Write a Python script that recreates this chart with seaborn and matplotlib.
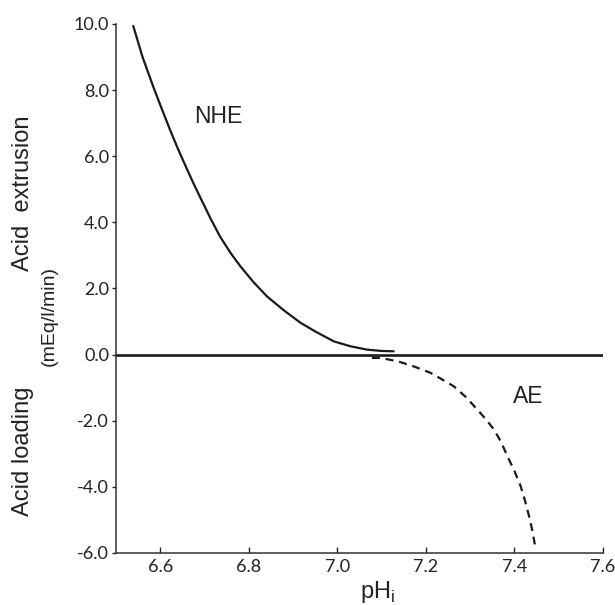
import numpy as np
import pandas as pd
import matplotlib
matplotlib.use("Agg")
import matplotlib.pyplot as plt
import seaborn as sns

# values (pH_i vs flux in mEq/l/min)
nhe_ph = [6.539, 6.560, 6.584, 6.600, 6.622, 6.640, 6.660, 6.675, 6.690,
          6.700, 6.713, 6.735, 6.760, 6.781, 6.810, 6.841, 6.880, 6.917,
          6.950, 6.992, 7.030, 7.067, 7.100, 7.127]
nhe_flux = [9.94, 9.00, 8.11, 7.55, 6.80, 6.22, 5.62, 5.18, 4.76,
            4.49, 4.13, 3.57, 3.05, 2.67, 2.20, 1.76, 1.33, 0.96,
            0.70, 0.40, 0.25, 0.15, 0.11, 0.10]

ae_ph = [7.078, 7.097, 7.120, 7.143, 7.175, 7.210, 7.235, 7.263, 7.290,
         7.316, 7.335, 7.354, 7.370, 7.384, 7.400, 7.414, 7.424, 7.433,
         7.440, 7.446]
ae_flux = [-0.10, -0.10, -0.16, -0.23, -0.37, -0.55, -0.74, -0.96, -1.28,
           -1.66, -1.95, -2.27, -2.65, -3.07, -3.52, -3.98, -4.43, -4.89,
           -5.30, -5.74]

x_ticks = [6.6, 6.8, 7.0, 7.2, 7.4, 7.6]
y_ticks = [-6.0, -4.0, -2.0, 0.0, 2.0, 4.0, 6.0, 8.0, 10.0]

sns.set_style("ticks")
plt.rcParams["font.family"] = ["Liberation Sans", "DejaVu Sans"]
plt.rcParams["axes.unicode_minus"] = False

fig = plt.figure(figsize=(6.15, 6.05), dpi=100)
ax = fig.add_axes([0.1886, 0.0860, 0.7919, 0.8744])

nhe = pd.DataFrame({"ph": nhe_ph, "flux": nhe_flux})
ae = pd.DataFrame({"ph": ae_ph, "flux": ae_flux})

ax.axhline(0, color="#1a1a1a", lw=1.9, zorder=1)
sns.lineplot(data=nhe, x="ph", y="flux", ax=ax, color="#1a1a1a", lw=1.6,
             sort=False, zorder=2)
sns.lineplot(data=ae, x="ph", y="flux", ax=ax, color="#1a1a1a", lw=1.6,
             sort=False, linestyle=(0, (3.6, 2.6)), zorder=2)

ax.set_xlim(6.5, 7.6)
ax.set_ylim(-6, 10)
ax.set_xticks(x_ticks)
ax.set_yticks(y_ticks)
ax.set_xticklabels([f"{v:.1f}" for v in x_ticks], fontfamily="Lato", fontsize=13)
ax.set_yticklabels([f"{v:.1f}" for v in y_ticks], fontfamily="Lato", fontsize=13)
ax.tick_params(axis="x", direction="in", length=4, width=1, pad=4, colors="#222")
ax.tick_params(axis="y", direction="out", length=3, width=1, pad=2, colors="#222")

sns.despine(ax=ax)
for s in ("left", "bottom"):
    ax.spines[s].set_linewidth(1.1)
    ax.spines[s].set_color("#333")

ax.set_xlabel(r"pH$_\mathregular{i}$", fontsize=17, color="#222")
ax.xaxis.set_label_coords(0.538, -0.050)
ax.set_ylabel("")

ax.text(6.731, 7.2, "NHE", fontsize=16.5, ha="center", va="center", color="#222")
ax.text(7.432, -1.27, "AE", fontsize=16.5, ha="center", va="center", color="#222")

fig.text(0.037, 0.680, "Acid  extrusion", rotation=90, fontsize=17,
         ha="center", va="center", color="#222")
fig.text(0.037, 0.2545, "Acid loading", rotation=90, fontsize=17,
         ha="center", va="center", color="#222")
fig.text(0.080, 0.478, "(mEq/l/min)", rotation=90, fontsize=14,
         ha="center", va="center", color="#222")

fig.savefig("out.png", dpi=100)
